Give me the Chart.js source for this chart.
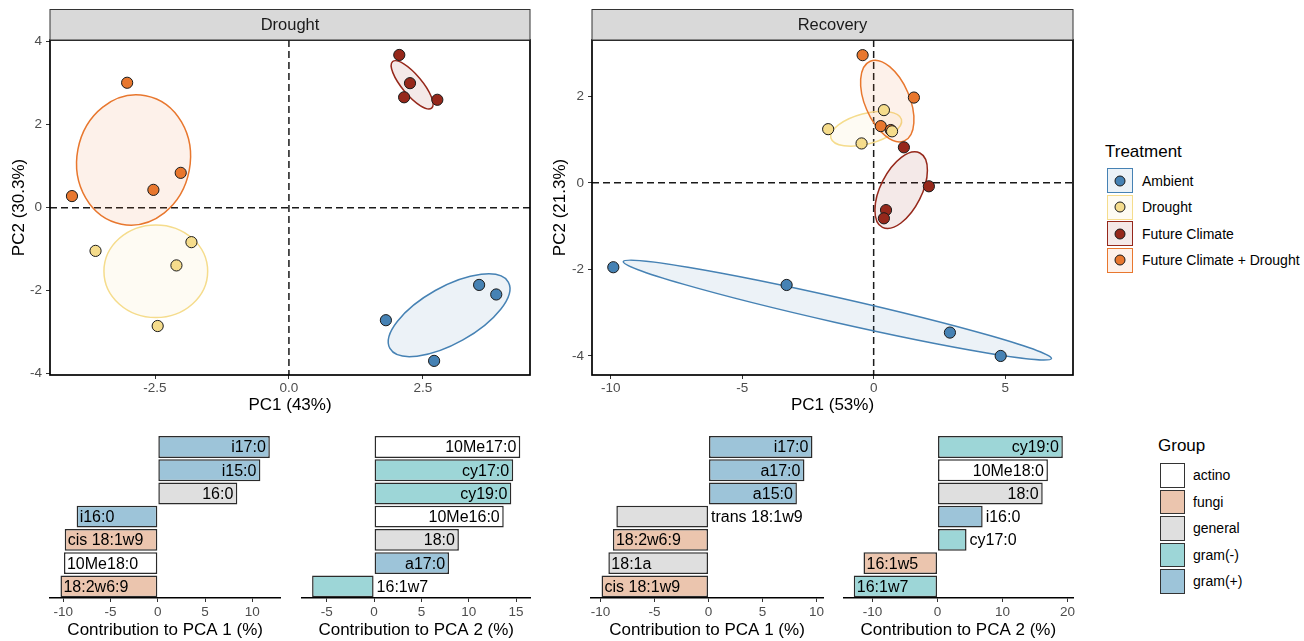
<!DOCTYPE html>
<html>
<head>
<meta charset="utf-8">
<script src="https://cdn.jsdelivr.net/npm/chart.js@4.4.1/dist/chart.umd.min.js"></script>
<style>
  body { margin: 0; background: #fff; }
  #wrap { position: relative; width: 1304px; height: 641px; background: #fff; font-family: "Liberation Sans", Arial, sans-serif; }
  canvas { position: absolute; }
  .lg-title { position: absolute; font-size: 17px; color: #000; line-height: 20px; }
  .lg-key { position: absolute; box-sizing: border-box; }
  .lg-dot { position: absolute; width: 11px; height: 11px; border-radius: 50%; border: 1px solid #1a1a1a; box-sizing: border-box; left: 50%; top: 50%; transform: translate(-50%, -50%); }
  .lg-label { position: absolute; font-size: 14px; color: #000; line-height: 16px; white-space: nowrap; }
</style>
</head>
<body>
<div id="wrap">
  <canvas id="pcaDrought" width="540" height="420" style="left:0;top:0"></canvas>
  <canvas id="pcaRecovery" width="540" height="420" style="left:545px;top:0"></canvas>
  <canvas id="barD1" width="290" height="216" style="left:0;top:425px"></canvas>
  <canvas id="barD2" width="250" height="216" style="left:290px;top:425px"></canvas>
  <canvas id="barR1" width="290" height="216" style="left:545px;top:425px"></canvas>
  <canvas id="barR2" width="250" height="216" style="left:835px;top:425px"></canvas>
</div>
<script>
const FONT = '"Liberation Sans", Arial, sans-serif';

// Treatments and their colours
const treatments = ['Ambient', 'Drought', 'Future Climate', 'Future Climate + Drought'];
const treatColors = ['#4682b4', '#f5dc8c', '#96281b', '#e8772e'];
// four samples per treatment, same order in both panels
const sampleTreatment = [0,0,0,0, 1,1,1,1, 2,2,2,2, 3,3,3,3];

// PCA scores, Drought panel
const droughtPC1 = [1.81, 3.55, 3.87, 2.71, -3.61, -1.82, -2.10, -2.45, 2.06, 2.26, 2.15, 2.77, -3.02, -4.05, -2.53, -2.02];
const droughtPC2 = [-2.71, -1.86, -2.09, -3.69, -1.04, -0.83, -1.39, -2.85, 3.68, 3.00, 2.66, 2.60, 3.01, 0.28, 0.43, 0.84];
// PCA scores, Recovery panel
const recoveryPC1 = [-9.90, -3.31, 2.90, 4.83, -1.73, -0.46, 0.39, 0.70, 1.15, 2.10, 0.47, 0.39, -0.42, 1.53, 0.27, 0.65];
const recoveryPC2 = [-1.95, -2.36, -3.46, -4.00, 1.24, 0.91, 1.68, 1.19, 0.82, -0.08, -0.63, -0.82, 2.95, 1.97, 1.31, 1.22];

// ellipses per treatment: centre and two conjugate semi-axes (PC units)
const droughtEllCentre = [[2.99, -2.59], [-2.485, -1.53], [2.30, 2.96], [-2.90, 1.15]];
const droughtEllAxisA  = [[1.105, 0.80], [0.968, 0], [0.364, -0.561], [0.226, 1.547]];
const droughtEllAxisB  = [[-0.258, 0.595], [0, 1.116], [0.143, 0.154], [-1.039, 0.253]];
const recoveryEllCentre = [[-1.38, -2.94], [-0.285, 1.25], [1.046, -0.169], [0.517, 1.89]];
const recoveryEllAxisA  = [[8.14, -1.12], [1.342, 0.215], [0.711, 0.859], [-0.65, 0.92]];
const recoveryEllAxisB  = [[0.105, 0.28], [-0.148, 0.342], [-0.70, 0.214], [-0.78, -0.203]];

// axis limits and ticks
const droughtXRange = [-4.46, 4.50], droughtYRange = [-4.03, 4.04];
const droughtXTicks = [-2.5, 0, 2.5], droughtXTickLabels = ['-2.5', '0.0', '2.5'];
const droughtYTicks = [-4, -2, 0, 2, 4];
const recoveryXRange = [-10.71, 7.58], recoveryYRange = [-4.44, 3.30];
const recoveryXTicks = [-10, -5, 0, 5], recoveryYTicks = [-4, -2, 0, 2];

// Lipid groups
const groups = ['actino', 'fungi', 'general', 'gram(-)', 'gram(+)'];
const groupColors = ['#ffffff', '#ebc5ae', '#dfdfdf', '#9dd6d7', '#9dc4d9'];

// Contributions (%) to each PC
const d1Lipids = ['i17:0', 'i15:0', '16:0', 'i16:0', 'cis 18:1w9', '10Me18:0', '18:2w6:9'];
const d1Contrib = [11.85, 10.85, 8.41, -8.59, -9.85, -9.93, -10.3];
const d1Group = ['gram(+)', 'gram(+)', 'general', 'gram(+)', 'fungi', 'actino', 'fungi'];
const d1Inside = [true, true, true, true, true, true, true];

const d2Lipids = ['10Me17:0', 'cy17:0', 'cy19:0', '10Me16:0', '18:0', 'a17:0', '16:1w7'];
const d2Contrib = [15.45, 14.7, 14.5, 13.7, 8.96, 7.92, -6.55];
const d2Group = ['actino', 'gram(-)', 'gram(-)', 'actino', 'general', 'gram(+)', 'gram(-)'];
const d2Inside = [true, true, true, true, true, true, false];

const r1Lipids = ['i17:0', 'a17:0', 'a15:0', 'trans 18:1w9', '18:2w6:9', '18:1a', 'cis 18:1w9'];
const r1Contrib = [9.62, 8.88, 8.18, -8.53, -8.85, -9.27, -9.9];
const r1Group = ['gram(+)', 'gram(+)', 'gram(+)', 'general', 'fungi', 'general', 'fungi'];
const r1Inside = [true, true, true, false, true, true, true];

const r2Lipids = ['cy19:0', '10Me18:0', '18:0', 'i16:0', 'cy17:0', '16:1w5', '16:1w7'];
const r2Contrib = [19.3, 17.0, 16.2, 6.95, 4.47, -11.4, -12.9];
const r2Group = ['gram(-)', 'actino', 'general', 'gram(+)', 'gram(-)', 'fungi', 'gram(-)'];
const r2Inside = [true, true, true, false, false, true, true];

const d1Ticks = [-10, -5, 0, 5, 10];
const d2Ticks = [-5, 0, 5, 10, 15];
const r1Ticks = [-10, -5, 0, 5, 10];
const r2Ticks = [-10, 0, 10, 20];

function tint(hex, a) {
  const n = parseInt(hex.slice(1), 16);
  return `rgba(${n >> 16},${(n >> 8) & 255},${n & 255},${a})`;
}

function panelPlugin(strip, centres, axisA, axisB) {
  return {
    id: 'panel',
    beforeDatasetsDraw(chart) {
      const { ctx, chartArea: a, scales: { x, y } } = chart;
      ctx.save();
      ctx.beginPath();
      ctx.rect(a.left, a.top, a.right - a.left, a.bottom - a.top);
      ctx.clip();
      // dashed zero lines
      ctx.setLineDash([7, 4]);
      ctx.lineWidth = 1.5;
      ctx.strokeStyle = '#1a1a1a';
      const x0 = x.getPixelForValue(0), y0 = y.getPixelForValue(0);
      ctx.beginPath(); ctx.moveTo(x0, a.top); ctx.lineTo(x0, a.bottom); ctx.stroke();
      ctx.beginPath(); ctx.moveTo(a.left, y0); ctx.lineTo(a.right, y0); ctx.stroke();
      ctx.setLineDash([]);
      // ellipses
      centres.forEach((c, i) => {
        const cx = x.getPixelForValue(c[0]), cy = y.getPixelForValue(c[1]);
        const ax = x.getPixelForValue(c[0] + axisA[i][0]) - cx;
        const ay = y.getPixelForValue(c[1] + axisA[i][1]) - cy;
        const bx = x.getPixelForValue(c[0] + axisB[i][0]) - cx;
        const by = y.getPixelForValue(c[1] + axisB[i][1]) - cy;
        ctx.save();
        ctx.beginPath();
        ctx.transform(ax, ay, bx, by, cx, cy);
        ctx.arc(0, 0, 1, 0, Math.PI * 2);
        ctx.restore();
        ctx.fillStyle = tint(treatColors[i], 0.1);
        ctx.fill();
        ctx.lineWidth = 1.5;
        ctx.strokeStyle = treatColors[i];
        ctx.stroke();
      });
      ctx.restore();
    },
    afterDatasetsDraw(chart) {
      const { ctx, chartArea: a } = chart;
      ctx.save();
      ctx.lineWidth = 1.7;
      ctx.strokeStyle = '#000';
      ctx.strokeRect(a.left, a.top, a.right - a.left, a.bottom - a.top);
      // facet strip
      const top = 9.5;
      ctx.fillStyle = '#d9d9d9';
      ctx.fillRect(a.left, top, a.right - a.left, a.top - top);
      ctx.lineWidth = 1;
      ctx.strokeStyle = '#333';
      ctx.strokeRect(a.left, top, a.right - a.left, a.top - top);
      ctx.fillStyle = '#1a1a1a';
      ctx.font = `16.5px ${FONT}`;
      ctx.textAlign = 'center';
      ctx.textBaseline = 'middle';
      ctx.fillText(strip, (a.left + a.right) / 2, (top + a.top) / 2 + 1);
      ctx.restore();
    }
  };
}

function pcaChart(id, cfg) {
  const datasets = treatments.map((t, k) => ({
    label: t,
    data: cfg.pc1.map((v, i) => ({ x: v, y: cfg.pc2[i] })).filter((p, i) => sampleTreatment[i] === k),
    backgroundColor: treatColors[k],
    borderColor: '#1a1a1a',
    borderWidth: 1,
    pointRadius: 5.6
  }));
  const tickFont = { size: 13.5, family: FONT };
  const grid = { display: true, drawOnChartArea: false, drawTicks: true, tickLength: 4, color: '#333', lineWidth: 1 };
  return new Chart(document.getElementById(id), {
    type: 'scatter',
    data: { datasets },
    options: {
      responsive: false,
      animation: false,
      events: [],
      layout: { padding: { left: 0, right: cfg.padRight, top: 40, bottom: 0 } },
      plugins: { legend: { display: false }, tooltip: { enabled: false } },
      scales: {
        x: {
          type: 'linear', min: cfg.xRange[0], max: cfg.xRange[1],
          afterBuildTicks: s => { s.ticks = cfg.xTicks.map(v => ({ value: v })); },
          ticks: { callback: (v, i) => cfg.xLabels[i], color: '#4d4d4d', font: tickFont, padding: 1, maxRotation: 0, autoSkip: false },
          grid, border: { display: false },
          title: { display: true, text: cfg.xTitle, color: '#000', font: { size: 17, family: FONT }, padding: { top: 0, bottom: 4 } },
          afterFit: s => { s.height = 45; }
        },
        y: {
          type: 'linear', min: cfg.yRange[0], max: cfg.yRange[1],
          afterBuildTicks: s => { s.ticks = cfg.yTicks.map(v => ({ value: v })); },
          ticks: { callback: v => String(v), color: '#4d4d4d', font: tickFont, padding: 4, autoSkip: false },
          grid, border: { display: false },
          title: { display: true, text: cfg.yTitle, color: '#000', font: { size: 17, family: FONT }, padding: { top: cfg.yTitlePad, bottom: 0 } },
          afterFit: s => { s.width = cfg.axisWidth; }
        }
      }
    },
    plugins: [panelPlugin(cfg.strip, cfg.centres, cfg.axisA, cfg.axisB)]
  });
}

pcaChart('pcaDrought', {
  pc1: droughtPC1, pc2: droughtPC2, xRange: droughtXRange, yRange: droughtYRange,
  xTicks: droughtXTicks, xLabels: droughtXTickLabels, yTicks: droughtYTicks,
  xTitle: 'PC1 (43%)', yTitle: 'PC2 (30.3%)', strip: 'Drought',
  centres: droughtEllCentre, axisA: droughtEllAxisA, axisB: droughtEllAxisB,
  axisWidth: 50, padRight: 10, yTitlePad: 9
});
pcaChart('pcaRecovery', {
  pc1: recoveryPC1, pc2: recoveryPC2, xRange: recoveryXRange, yRange: recoveryYRange,
  xTicks: recoveryXTicks, xLabels: recoveryXTicks.map(String), yTicks: recoveryYTicks,
  xTitle: 'PC1 (53%)', yTitle: 'PC2 (21.3%)', strip: 'Recovery',
  centres: recoveryEllCentre, axisA: recoveryEllAxisA, axisB: recoveryEllAxisB,
  axisWidth: 47, padRight: 12, yTitlePad: 5
});

// labels drawn on or beside each bar
function barLabelPlugin(inside) {
  return {
    id: 'barLabels',
    afterDatasetsDraw(chart) {
      const { ctx } = chart;
      const values = chart.data.datasets[0].data;
      ctx.save();
      ctx.font = `16px ${FONT}`;
      ctx.fillStyle = '#000';
      ctx.textBaseline = 'middle';
      chart.getDatasetMeta(0).data.forEach((bar, i) => {
        const lo = Math.min(bar.x, bar.base), hi = Math.max(bar.x, bar.base);
        const name = chart.data.labels[i];
        if (inside[i] && values[i] >= 0) { ctx.textAlign = 'right'; ctx.fillText(name, hi - 4, bar.y + 1); }
        else if (inside[i]) { ctx.textAlign = 'left'; ctx.fillText(name, lo + 3, bar.y + 1); }
        else { ctx.textAlign = 'left'; ctx.fillText(name, hi + 3, bar.y + 1); }
      });
      ctx.restore();
    }
  };
}

function contribChart(id, lipids, contrib, grp, inside, ticks, title, padLeft, padRight) {
  const lo = Math.min(0, ...contrib), hi = Math.max(0, ...contrib);
  const pad = (hi - lo) * 0.05;
  return new Chart(document.getElementById(id), {
    type: 'bar',
    data: {
      labels: lipids,
      datasets: [{
        data: contrib,
        backgroundColor: grp.map(g => groupColors[groups.indexOf(g)]),
        borderColor: '#2b2b2b',
        borderWidth: 1.5,
        borderSkipped: false,
        barPercentage: 0.94,
        categoryPercentage: 1
      }]
    },
    options: {
      indexAxis: 'y',
      responsive: false,
      animation: false,
      events: [],
      layout: { padding: { left: padLeft, right: padRight, top: 10.4, bottom: 0 } },
      plugins: { legend: { display: false }, tooltip: { enabled: false } },
      scales: {
        y: { display: false },
        x: {
          type: 'linear', min: lo - pad, max: hi + pad,
          afterBuildTicks: s => { s.ticks = ticks.map(v => ({ value: v })); },
          ticks: { callback: v => String(v), color: '#4d4d4d', font: { size: 13.5, family: FONT }, padding: 2, maxRotation: 0, autoSkip: false },
          grid: { display: true, drawOnChartArea: false, drawTicks: true, tickLength: 4, color: '#333' },
          border: { display: true, color: '#000', width: 1.5 },
          title: { display: true, text: title, color: '#000', font: { size: 17, family: FONT }, padding: { top: 0, bottom: 0 } },
          afterFit: s => { s.height = 43; }
        }
      }
    },
    plugins: [barLabelPlugin(inside)]
  });
}

contribChart('barD1', d1Lipids, d1Contrib, d1Group, d1Inside, d1Ticks, 'Contribution to PCA 1 (%)', 50, 9.7);
contribChart('barD2', d2Lipids, d2Contrib, d2Group, d2Inside, d2Ticks, 'Contribution to PCA 2 (%)', 11.7, 9.3);
contribChart('barR1', r1Lipids, r1Contrib, r1Group, r1Inside, r1Ticks, 'Contribution to PCA 1 (%)', 46, 12);
contribChart('barR2', r2Lipids, r2Contrib, r2Group, r2Inside, r2Ticks, 'Contribution to PCA 2 (%)', 8.3, 11.7);

// legends
const wrap = document.getElementById('wrap');
function add(cls, css, text) {
  const d = document.createElement('div');
  d.className = cls;
  Object.assign(d.style, css);
  if (text) d.textContent = text;
  wrap.appendChild(d);
  return d;
}
add('lg-title', { left: '1105px', top: '142px' }, 'Treatment');
treatments.forEach((t, i) => {
  const top = 168 + i * 26.5;
  const key = add('lg-key', { left: '1107px', top: top + 'px', width: '26px', height: '25px',
    border: `1.5px solid ${treatColors[i]}`, background: tint(treatColors[i], 0.1) });
  const dot = document.createElement('div');
  dot.className = 'lg-dot';
  dot.style.background = treatColors[i];
  key.appendChild(dot);
  add('lg-label', { left: '1142px', top: (top + 4.5) + 'px' }, t);
});
add('lg-title', { left: '1158px', top: '436px' }, 'Group');
groups.forEach((g, i) => {
  const top = 463 + i * 26.5;
  add('lg-key', { left: '1160px', top: top + 'px', width: '25px', height: '24.5px',
    border: '1.5px solid #333', background: groupColors[i] });
  add('lg-label', { left: '1193px', top: (top + 4) + 'px' }, g);
});
</script>
</body>
</html>
